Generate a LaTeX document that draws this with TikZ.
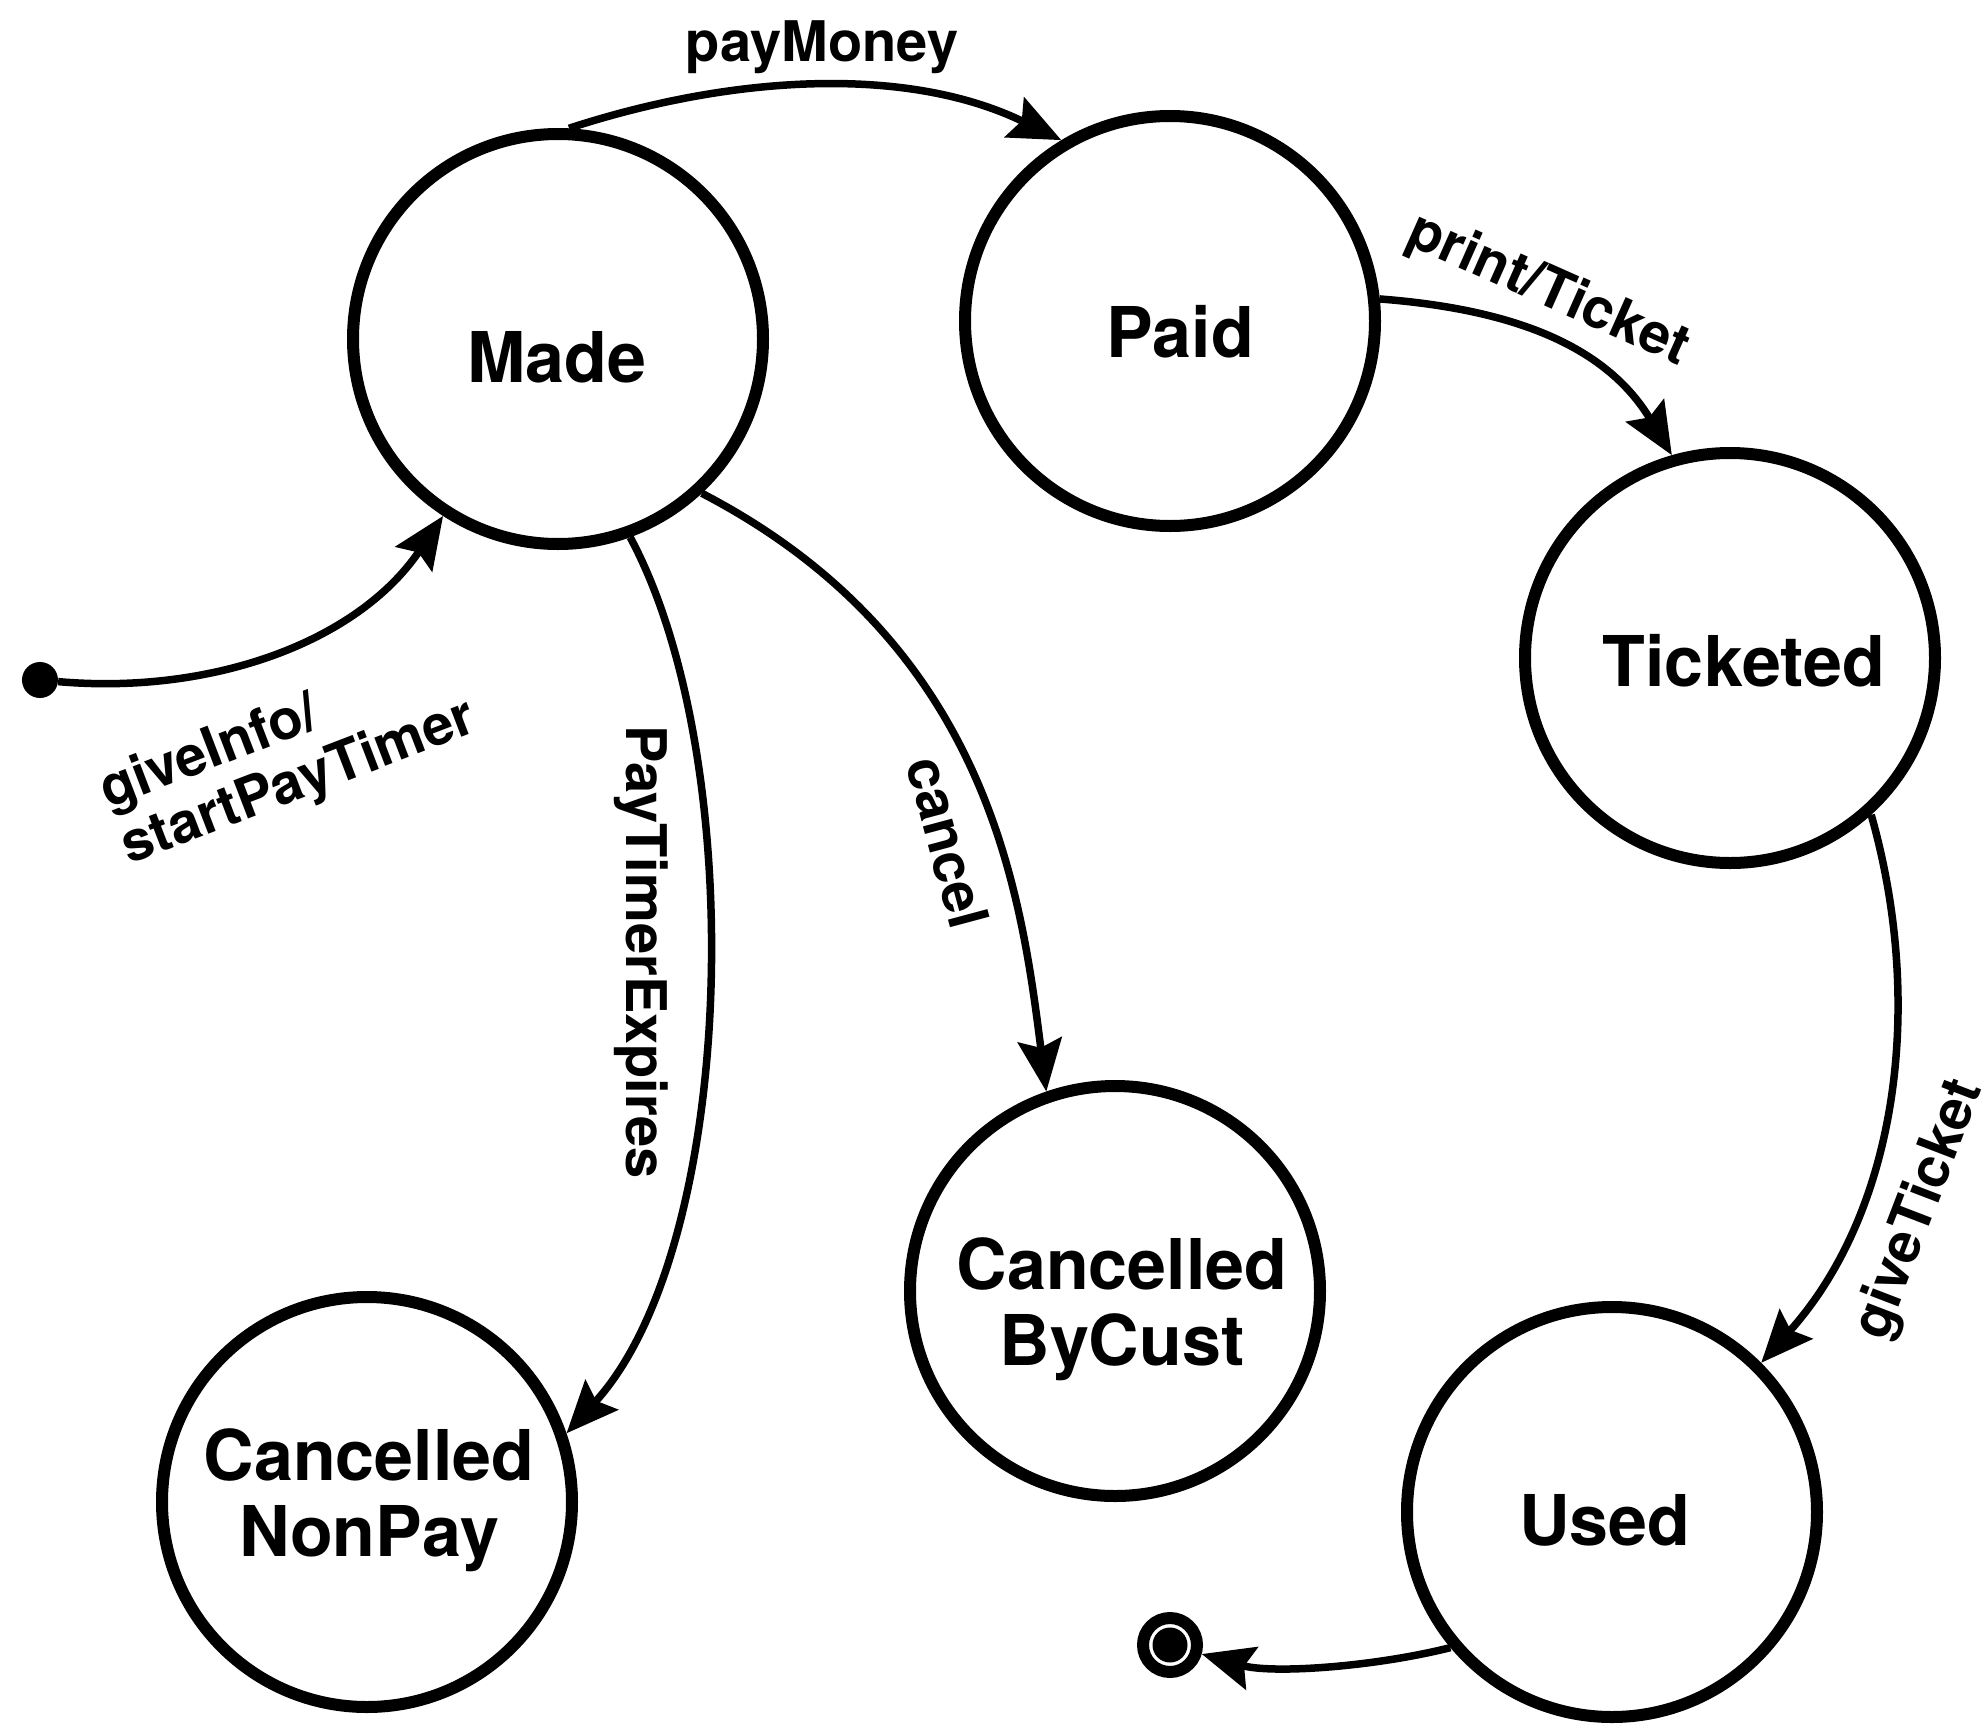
\documentclass[tikz,border=0pt]{standalone}
\usepackage{fontspec}
\setmainfont{TeX Gyre Heros}
\usetikzlibrary{arrows.meta}
\begin{document}
\begin{tikzpicture}[x=1pt,y=1pt,
  stnode/.style={circle, draw, line width=12pt, minimum size=410pt, inner sep=0pt},
  sname/.style={font=\fontsize{70}{76}\selectfont\bfseries, inner sep=0pt, align=center},
  lbl/.style={font=\fontsize{56}{60}\selectfont\bfseries, inner sep=0pt},
  trans/.style={line width=7.5pt, -{Stealth[length=52pt,width=44pt,inset=8pt]}},
  startdot/.style={circle, fill, minimum size=36pt, inner sep=0pt},
  enddot/.style={circle, draw, line width=12pt, minimum size=54pt, inner sep=0pt}
]
\useasboundingbox (0,0) rectangle (1982,-1724);
\clip (0,0) rectangle (1982,-1724);

% states
\node[stnode] (Made) at (558,-339) {};
\node[sname] (MadeT) at (557,-357) {Made};
\node[stnode] (Paid) at (1170,-321) {};
\node[sname] (PaidT) at (1180,-332) {Paid};
\node[stnode] (Ticketed) at (1730,-658) {};
\node[sname] (TicketedT) at (1744,-661) {Ticketed};
\node[stnode] (CBC) at (1115,-1291) {};
\node[sname] (CBCT) at (1122,-1309) {Cancelled\\ByCust};
\node[stnode] (CNP) at (367,-1502) {};
\node[sname] (CNPT) at (369,-1500) {Cancelled\\NonPay};
\node[stnode] (Used) at (1612,-1512) {};
\node[sname] (UsedT) at (1605,-1520) {Used};

% pseudo states
\node[startdot] (init) at (40,-680) {};
\node[enddot] (fin) at (1170,-1645) {};
\fill (fin.center) circle[radius=17.5];

% transitions
\draw[trans] (init) .. controls (210,-695) and (357,-643) .. (Made.-123);
\draw[trans] (Made.87) .. controls (732,-75) and (907,-65) .. (Paid.121);
\draw[trans] (Paid.6.5) .. controls (1510,-309) and (1605,-344) .. (Ticketed.106.6);
\draw[trans] (Ticketed.-48.6) .. controls (1927,-1012) and (1894,-1215) .. (Used.45);
\draw[trans] (Used.-140) .. controls (1373,-1667) and (1272,-1674) .. (fin);
\draw[trans] (Made.-70) .. controls (750,-760) and (737,-1247) .. (CNP.19);
\draw[trans] (Made.-47) .. controls (988,-642) and (1021,-892) .. (CBC.109);

% labels
\node[lbl] (lPay) at (822,-47) {payMoney};
\node[lbl, rotate=-24] (lPrint) at (1548,-291) {print/Ticket};
\node[lbl, rotate=69] (lGive) at (1920,-1210) {giveTicket};
\node[lbl, rotate=-90] (lExp) at (641,-952) {PayTimerExpires};
\node[lbl, rotate=-75] (lCan) at (948,-842) {cancel};
\node[lbl, rotate=21, align=left] (lInfo) at (288,-756) {giveInfo/\\startPayTimer};
\end{tikzpicture}
\end{document}
